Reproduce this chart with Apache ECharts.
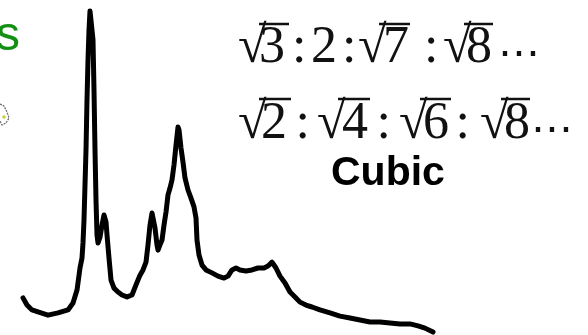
<!DOCTYPE html>
<html>
<head>
<meta charset="utf-8">
<script src="https://cdn.jsdelivr.net/npm/echarts@6/dist/echarts.min.js"></script>
<style>
html,body{margin:0;padding:0;background:#fff;}
#c{width:588px;height:335px;}
</style>
</head>
<body>
<div id="c"></div>
<script>
// Scattering vector (arbitrary units)
var qValues = [0,1,2.25,3.75,6.25,8.75,11.25,12.5,13.5,13.75,14.25,14.75,15,15.25,15.75,16,16.25,16.5,16.75,17.25,17.5,17.75,18,18.25,18.5,18.75,19.25,19.75,20.25,20.75,21,21.5,22,22.75,23.75,24.75,26,27.25,28.25,29.25,30,30.75,31.25,31.75,32.25,32.75,33,33.5,33.75,34.25,34.75,35.25,35.75,36.25,36.75,37.25,37.75,38.25,38.75,39,39.5,40,40.5,41.25,42,42.75,43.25,43.5,44,44.75,45.75,47.25,48.75,50.25,51.25,52.25,53.25,54.25,55.75,57.25,58.75,60.25,61.25,62.25,63.25,64.25,65.5,66.75,68,69.25,70.75,72.25,74.25,76.75,79.25,81.75,84.25,86.75,89.25,91.75,94.25,96.75,98.75,100.5,102.5];
// Intensity (arbitrary units)
var intensity = [10.8,8.6,7.1,6.5,5.5,6.2,7.1,9.2,13.2,15.4,20.0,23.1,27.7,34.8,56.3,71.7,84.0,93.2,99.1,99.4,90.2,74.8,56.3,40.9,30.2,27.7,29.5,33.2,36.3,34.2,30.2,23.1,16.3,13.8,12.6,11.7,11.1,11.7,14.8,17.8,19.4,21.8,27.1,33.2,36.9,36.3,32.3,27.1,25.5,27.1,28.6,33.2,37.2,42.5,44.6,47.1,51.7,57.8,63.4,62.5,56.9,52.6,47.7,44.0,41.5,38.8,35.4,28.6,24.0,20.9,19.4,18.5,17.5,16.9,17.5,19.4,20.0,19.4,19.1,19.4,20.0,20.0,20.6,21.8,20.0,17.5,15.4,12.6,11.1,9.5,8.6,8.0,7.1,6.2,5.2,4.6,4.0,3.4,3.4,3.1,2.8,2.8,2.2,1.5,0.3];

// Annotation texts
var line1Tokens = ['√','3',':','2',':','√','7',':','√','8'];
var line2Tokens = ['√','2',':','√','4',':','√','6',':','√','8'];
var ellipsis = '⋯';
var labelCubic = 'Cubic';
var labelGreen = 's';

// Layout (positions of annotation glyphs)
var line1X = [238,259,292,311,342,358,383,424,443,466];
var line2X = [238,261,295.5,317,342,376.5,399,423,455.5,480,504];
var line1Top = 22, line2Top = 98;
var line1Bars = [[259,289,24],[379,410,24],[464,493,24]];
var line2Bars = [[259,291,99],[338,370,99],[420,451,99],[501,530,99]];
var dots1 = [498,54.5], dots2 = [531,130.5];

var data = qValues.map(function(q,i){return [q,intensity[i]];});

var serifFont = '52px "Liberation Serif", "Times New Roman", serif';
var graphics = [];
function addLine(tokens, xs, top){
  tokens.forEach(function(t,i){
    graphics.push({type:'text', x:xs[i], y:top, silent:true,
      style:{text:t, font:serifFont, fill:'#111', align:'left', verticalAlign:'top'}});
  });
}
addLine(line1Tokens, line1X, line1Top);
addLine(line2Tokens, line2X, line2Top);
[dots1,dots2].forEach(function(d){
  graphics.push({type:'text', x:d[0], y:d[1], silent:true,
    style:{text:ellipsis, font:'42px "Liberation Serif", "DejaVu Serif", serif', fill:'#111', align:'left', verticalAlign:'middle'}});
});
line1Bars.concat(line2Bars).forEach(function(b){
  graphics.push({type:'line', silent:true, shape:{x1:b[0],y1:b[2],x2:b[1],y2:b[2]}, style:{stroke:'#111',lineWidth:2.5}});
});
graphics.push({type:'text', x:331, y:153, silent:true,
  style:{text:labelCubic, font:'bold 41px "Liberation Sans", Arial, sans-serif', fill:'#000', align:'left', verticalAlign:'top'}});
graphics.push({type:'text', x:-4, y:13, silent:true,
  style:{text:labelGreen, font:'48px "Liberation Sans", Arial, sans-serif', fill:'#138f13', align:'left', verticalAlign:'top'}});
// small cropped icon at left edge
graphics.push({type:'polyline', silent:true, shape:{points:[[0,104],[4,106],[7,112],[9,118],[6,123],[2,125],[0,121]]}, style:{stroke:'#666',lineWidth:1.2,lineDash:[2,1],fill:null}});
graphics.push({type:'circle', silent:true, shape:{cx:4,cy:117,r:1.8}, style:{fill:'#c9d13a'}});

var chart = echarts.init(document.getElementById('c'), null, {renderer:'canvas'});
chart.setOption({
  animation:false,
  backgroundColor:'#fff',
  grid:{left:23, right:155, top:8, bottom:2},
  xAxis:{type:'value', min:0, max:102.5, show:false},
  yAxis:{type:'value', min:0, max:100, show:false},
  series:[{type:'line', data:data, showSymbol:false, smooth:false,
    lineStyle:{color:'#000', width:5, join:'round', cap:'round'}}],
  graphic:graphics
});
</script>
</body>
</html>
